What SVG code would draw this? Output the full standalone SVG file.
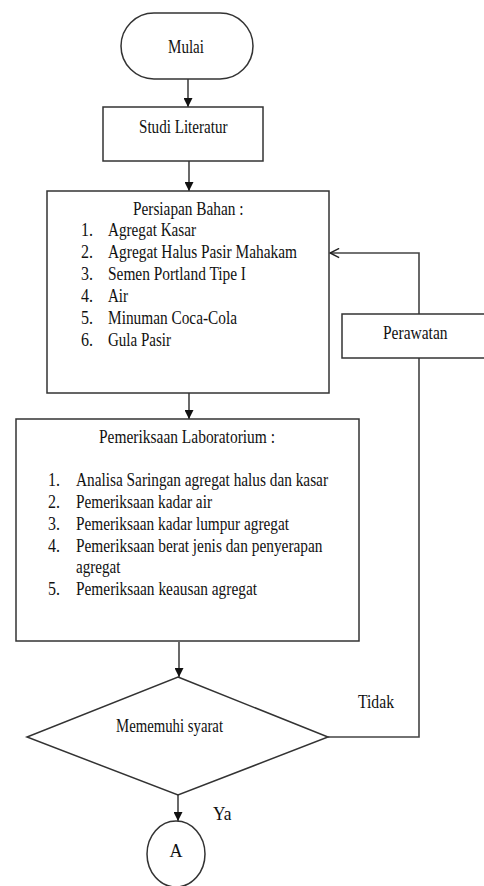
<svg xmlns="http://www.w3.org/2000/svg" width="484" height="886" viewBox="0 0 484 886">
<defs>
<marker id="tri" viewBox="0 0 10 10" refX="10" refY="5" markerWidth="9" markerHeight="9" markerUnits="userSpaceOnUse" orient="auto">
<path d="M0,0 L10,5 L0,10 Z" fill="#111"/>
</marker>
<marker id="open" viewBox="0 0 12 12" refX="11" refY="6" markerWidth="11" markerHeight="11" markerUnits="userSpaceOnUse" orient="auto">
<path d="M1,1 L11,6 L1,11" fill="none" stroke="#222" stroke-width="1.6"/>
</marker>
<style>
.shape{fill:#fff;stroke:#333;stroke-width:1.5}
.line{fill:none;stroke:#444;stroke-width:1.6}
.arrow{marker-end:url(#tri)}
text{font-family:"Liberation Serif","Times New Roman",serif;font-size:18px;fill:#111}
</style>
</defs>
<rect width="484" height="886" fill="#fff"/>

<g id="connectors">
<line class="line arrow" x1="188" y1="79" x2="188" y2="107"/>
<line class="line arrow" x1="189" y1="161" x2="189" y2="191"/>
<line class="line arrow" x1="189" y1="393" x2="189" y2="419"/>
<line class="line arrow" x1="179" y1="642" x2="179" y2="677"/>
<line class="line arrow" x1="178" y1="795" x2="178" y2="821"/>
<polyline class="line" points="328,737 419,737 419,358"/>
<polyline class="line" points="419,314 419,253 330,253" marker-end="url(#open)"/>
<text x="358" y="708" textLength="36" lengthAdjust="spacingAndGlyphs">Tidak</text>
<text x="213" y="820" textLength="18.5" lengthAdjust="spacingAndGlyphs">Ya</text>
</g>

<g id="mulai">
<rect class="shape" x="121" y="13" width="132" height="66" rx="33" ry="33"/>
<text x="168" y="53" textLength="36" lengthAdjust="spacingAndGlyphs">Mulai</text>
</g>

<g id="studi">
<rect class="shape" x="103" y="107" width="160" height="54"/>
<text x="139" y="133" textLength="88.5" lengthAdjust="spacingAndGlyphs">Studi Literatur</text>
</g>

<g id="persiapan">
<rect class="shape" x="47" y="191" width="282" height="202"/>
<text x="133" y="215" textLength="110.5" lengthAdjust="spacingAndGlyphs">Persiapan Bahan :</text>
<text x="81" y="236" textLength="12" lengthAdjust="spacingAndGlyphs">1.</text><text x="108" y="236" textLength="88" lengthAdjust="spacingAndGlyphs">Agregat Kasar</text>
<text x="81" y="258" textLength="12" lengthAdjust="spacingAndGlyphs">2.</text><text x="108" y="258" textLength="189" lengthAdjust="spacingAndGlyphs">Agregat Halus Pasir Mahakam</text>
<text x="81" y="280" textLength="12" lengthAdjust="spacingAndGlyphs">3.</text><text x="108" y="280" textLength="138" lengthAdjust="spacingAndGlyphs">Semen Portland Tipe I</text>
<text x="81" y="302" textLength="12" lengthAdjust="spacingAndGlyphs">4.</text><text x="108" y="302" textLength="20" lengthAdjust="spacingAndGlyphs">Air</text>
<text x="81" y="324" textLength="12" lengthAdjust="spacingAndGlyphs">5.</text><text x="108" y="324" textLength="129" lengthAdjust="spacingAndGlyphs">Minuman Coca-Cola</text>
<text x="81" y="346" textLength="12" lengthAdjust="spacingAndGlyphs">6.</text><text x="108" y="346" textLength="63" lengthAdjust="spacingAndGlyphs">Gula Pasir</text>
</g>

<g id="perawatan">
<rect class="shape" x="342" y="314" width="150" height="44"/>
<text x="383" y="339" textLength="64.5" lengthAdjust="spacingAndGlyphs">Perawatan</text>
</g>

<g id="pemeriksaan">
<rect class="shape" x="16" y="419" width="343" height="222"/>
<text x="99" y="443" textLength="176" lengthAdjust="spacingAndGlyphs">Pemeriksaan Laboratorium :</text>
<text x="48" y="486" textLength="12" lengthAdjust="spacingAndGlyphs">1.</text><text x="76" y="486" textLength="252" lengthAdjust="spacingAndGlyphs">Analisa Saringan agregat halus dan kasar</text>
<text x="48" y="508" textLength="12" lengthAdjust="spacingAndGlyphs">2.</text><text x="76" y="508" textLength="136" lengthAdjust="spacingAndGlyphs">Pemeriksaan kadar air</text>
<text x="48" y="530" textLength="12" lengthAdjust="spacingAndGlyphs">3.</text><text x="76" y="530" textLength="213" lengthAdjust="spacingAndGlyphs">Pemeriksaan kadar lumpur agregat</text>
<text x="48" y="552" textLength="12" lengthAdjust="spacingAndGlyphs">4.</text><text x="76" y="552" textLength="246.5" lengthAdjust="spacingAndGlyphs">Pemeriksaan berat jenis dan penyerapan</text>
<text x="76" y="573" textLength="44.5" lengthAdjust="spacingAndGlyphs">agregat</text>
<text x="48" y="595" textLength="12" lengthAdjust="spacingAndGlyphs">5.</text><text x="76" y="595" textLength="181" lengthAdjust="spacingAndGlyphs">Pemeriksaan keausan agregat</text>
</g>

<g id="keputusan">
<polygon class="shape" points="178,677 328,737 178,795 27,737"/>
<text x="116" y="732" textLength="107" lengthAdjust="spacingAndGlyphs">Mememuhi syarat</text>
</g>

<g id="konektor-a">
<ellipse class="shape" cx="176" cy="854" rx="29" ry="33"/>
<text x="176" y="857" text-anchor="middle">A</text>
</g>
</svg>
